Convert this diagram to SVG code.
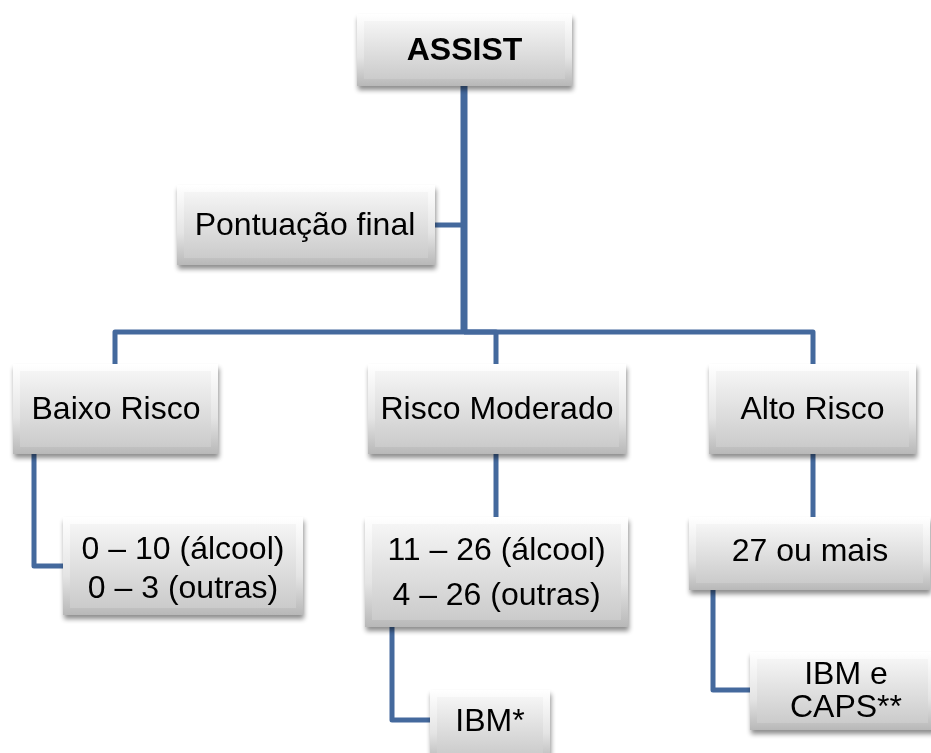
<svg xmlns="http://www.w3.org/2000/svg" width="931" height="753" viewBox="0 0 931 753">
<defs>
<linearGradient id="outer" x1="0" y1="0" x2="0" y2="1">
<stop offset="0" stop-color="#ffffff"/>
<stop offset="0.6" stop-color="#e4e4e4"/>
<stop offset="1" stop-color="#b8b8b8"/>
</linearGradient>
<linearGradient id="inner" x1="0" y1="0" x2="0" y2="1">
<stop offset="0" stop-color="#f5f5f5"/>
<stop offset="1" stop-color="#cbcbcb"/>
</linearGradient>
<filter id="sh" x="-10%" y="-10%" width="125%" height="135%">
<feGaussianBlur in="SourceAlpha" stdDeviation="2.5"/>
<feOffset dx="1" dy="4" result="b"/>
<feComponentTransfer><feFuncA type="linear" slope="0.45"/></feComponentTransfer>
<feMerge><feMergeNode/><feMergeNode in="SourceGraphic"/></feMerge>
</filter>
</defs>
<style>
.o{fill:url(#outer);}
.i{fill:url(#inner);}
.n{filter:url(#sh);}
text{font-family:"Liberation Sans",Arial,sans-serif;font-size:32px;fill:#000;text-anchor:middle;}
.b{font-weight:bold;}
.c{fill:none;stroke:#44699d;stroke-width:5;stroke-linejoin:round;stroke-linecap:butt;}
</style>
<rect width="931" height="753" fill="#ffffff"/>
<g id="connectors">
<path class="c" d="M464,86 V332" style="stroke-width:7"/>
<path class="c" d="M435,225 H464"/>
<path class="c" d="M464,332 H115 V364"/>
<path class="c" d="M464,332 H496 V364"/>
<path class="c" d="M464,332 H813 V364"/>
<path class="c" d="M34,454 V566 H63"/>
<path class="c" d="M496,454 V517"/>
<path class="c" d="M392,627 V720 H430"/>
<path class="c" d="M813,454 V517"/>
<path class="c" d="M713,590 V690 H750"/>
</g>
<g id="assist" class="n">
<rect class="o" x="357" y="14" width="215" height="72"/>
<rect class="i" x="364" y="21" width="201" height="58"/>
<text class="b" x="464.5" y="60">ASSIST</text>
</g>
<g id="pontuacao" class="n">
<rect class="o" x="177" y="185" width="258" height="80"/>
<rect class="i" x="184" y="192" width="244" height="66"/>
<text x="305" y="235">Pontuação final</text>
</g>
<g id="baixo" class="n">
<rect class="o" x="13" y="364" width="205" height="90"/>
<rect class="i" x="20" y="371" width="191" height="76"/>
<text x="116" y="419">Baixo Risco</text>
</g>
<g id="moderado" class="n">
<rect class="o" x="368" y="364" width="258" height="90"/>
<rect class="i" x="375" y="371" width="244" height="76"/>
<text x="497" y="419">Risco Moderado</text>
</g>
<g id="alto" class="n">
<rect class="o" x="709" y="364" width="207" height="90"/>
<rect class="i" x="716" y="371" width="193" height="76"/>
<text x="812.5" y="419">Alto Risco</text>
</g>
<g id="baixo-pont" class="n">
<rect class="o" x="63" y="517" width="240" height="98"/>
<rect class="i" x="70" y="524" width="226" height="84"/>
<text x="183" y="559">0 – 10 (álcool)</text>
<text x="183" y="598">0 – 3 (outras)</text>
</g>
<g id="moderado-pont" class="n">
<rect class="o" x="365" y="517" width="263" height="110"/>
<rect class="i" x="372" y="524" width="249" height="96"/>
<text x="496.5" y="560">11 – 26 (álcool)</text>
<text x="496.5" y="605">4 – 26 (outras)</text>
</g>
<g id="alto-pont" class="n">
<rect class="o" x="689" y="517" width="241" height="73"/>
<rect class="i" x="696" y="524" width="227" height="59"/>
<text x="810" y="561">27 ou mais</text>
</g>
<g id="ibm" class="n">
<rect class="o" x="430" y="690" width="120" height="72"/>
<rect class="i" x="437" y="697" width="106" height="58"/>
<text x="490" y="731">IBM*</text>
</g>
<g id="ibm-caps" class="n">
<rect class="o" x="750" y="652" width="185" height="78"/>
<rect class="i" x="757" y="659" width="171" height="64"/>
<text x="846" y="684">IBM e</text>
<text x="846" y="717">CAPS**</text>
</g>
</svg>
